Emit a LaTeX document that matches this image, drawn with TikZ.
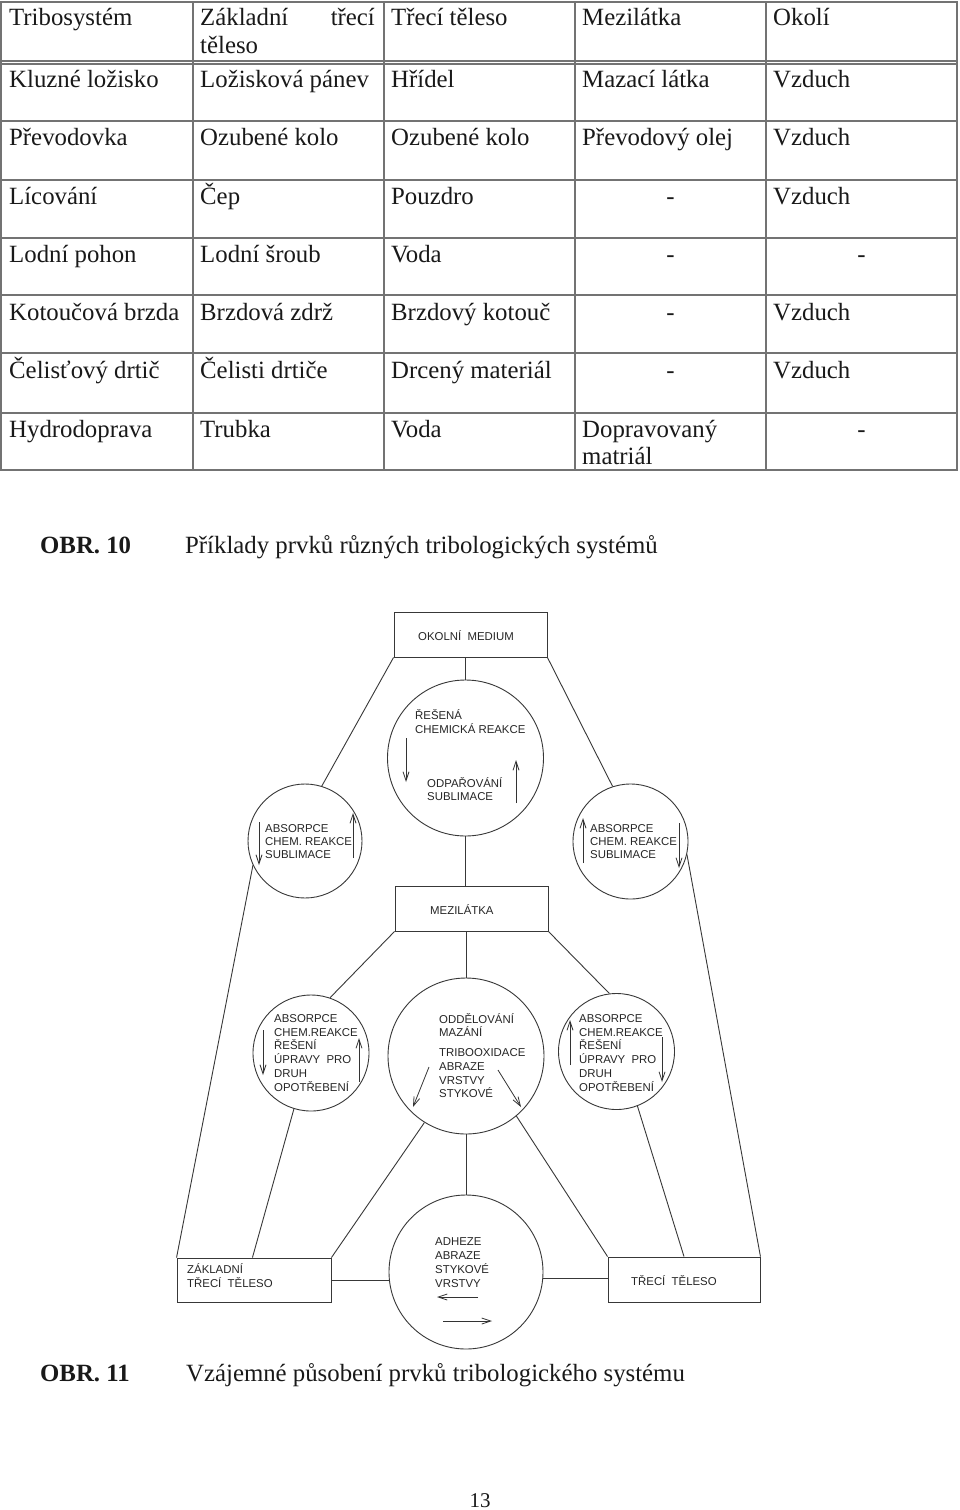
\documentclass[tikz,border=0pt]{standalone}
\usepackage{fontspec}
\setmainfont{Liberation Serif}
\newfontfamily\arialf{Liberation Sans}
\usetikzlibrary{arrows.meta,calc}
\newcommand\tabfnt{\fontsize{24.8}{28}\selectfont}
\newcommand\dgfnt{\arialf\fontsize{11.4}{13.7}\selectfont}
\newcommand\tcellx[4]{\node[tt] (#1) at (#2,#3) {#4};}
\newcommand\dcell[4]{\node[dt] (#1) at (#2,#3) {#4};}
\begin{document}
\begin{tikzpicture}[x=1pt,y=-1pt,
  tt/.style={anchor=base west, inner sep=0, font=\tabfnt, text=black!90},
  ttc/.style={anchor=base, inner sep=0, font=\tabfnt, text=black!90},
  tline/.style={draw=black!55, line width=1.1pt},
  dline/.style={draw=black!78, line width=0.9pt},
  dt/.style={anchor=base west, inner sep=0, font=\dgfnt, text=black!85},
  circ/.style={circle, draw=black!78, line width=0.9pt, minimum size=#1, inner sep=0},
  bx/.style={rectangle, draw=black!78, line width=0.9pt, inner sep=0},
  arr/.style={draw=black!80, line width=0.8pt, -{Straight Barb[length=9pt,width=6pt]}}]
\useasboundingbox (0,0) rectangle (960,1510);
\fill[white] (0,0) rectangle (960,1510);

% ---------- table grid ----------
\draw[tline] (1,2) rectangle (957,470);
\foreach \x in {193,384,575,766} \draw[tline] (\x,2) -- (\x,470);
\foreach \y in {61,64,121,180,238,295,353,413} \draw[tline] (1,\y) -- (957,\y);

% ---------- table text ----------
\tcellx{h1}{9}{25}{Tribosystém}
\tcellx{h2a}{200}{25}{Základní}
\node[inner sep=0, anchor=base east, font=\tabfnt, text=black!90] (h2b) at (375,25) {třecí};
\tcellx{h2c}{200}{53}{těleso}
\tcellx{h3}{391}{25}{Třecí těleso}
\tcellx{h4}{582}{25}{Mezilátka}
\tcellx{h5}{773}{25}{Okolí}

\tcellx{a1}{9}{87}{Kluzné ložisko}
\tcellx{a2}{200}{87}{Ložisková pánev}
\tcellx{a3}{391}{87}{Hřídel}
\tcellx{a4}{582}{87}{Mazací látka}
\tcellx{a5}{773}{87}{Vzduch}

\tcellx{b1}{9}{145}{Převodovka}
\tcellx{b2}{200}{145}{Ozubené kolo}
\tcellx{b3}{391}{145}{Ozubené kolo}
\tcellx{b4}{582}{145}{Převodový olej}
\tcellx{b5}{773}{145}{Vzduch}

\tcellx{c1}{9}{204}{Lícování}
\tcellx{c2}{200}{204}{Čep}
\tcellx{c3}{391}{204}{Pouzdro}
\node[ttc] (c4) at (670.5,204) {-};
\tcellx{c5}{773}{204}{Vzduch}

\tcellx{d1}{9}{262}{Lodní pohon}
\tcellx{d2}{200}{262}{Lodní šroub}
\tcellx{d3}{391}{262}{Voda}
\node[ttc] (d4) at (670.5,262) {-};
\node[ttc] (d5) at (861.5,262) {-};

\tcellx{e1}{9}{320}{Kotoučová brzda}
\tcellx{e2}{200}{320}{Brzdová zdrž}
\tcellx{e3}{391}{320}{Brzdový kotouč}
\node[ttc] (e4) at (670.5,320) {-};
\tcellx{e5}{773}{320}{Vzduch}

\tcellx{f1}{9}{378}{Čelisťový drtič}
\tcellx{f2}{200}{378}{Čelisti drtiče}
\tcellx{f3}{391}{378}{Drcený materiál}
\node[ttc] (f4) at (670.5,378) {-};
\tcellx{f5}{773}{378}{Vzduch}

\tcellx{g1}{9}{437}{Hydrodoprava}
\tcellx{g2}{200}{437}{Trubka}
\tcellx{g3}{391}{437}{Voda}
\tcellx{g4a}{582}{437}{Dopravovaný}
\tcellx{g4b}{582}{464}{matriál}
\node[ttc] (g5) at (861.5,437) {-};

% ---------- captions ----------
\node[tt, font=\tabfnt\bfseries] (cap1a) at (40,553) {OBR. 10};
\tcellx{cap1b}{185}{553}{Příklady prvků různých tribologických systémů}
\node[tt, font=\tabfnt\bfseries] (cap2a) at (40,1381) {OBR. 11};
\tcellx{cap2b}{186}{1381}{Vzájemné působení prvků tribologického systému}
\node[ttc, font=\fontsize{21}{24}\selectfont] (pg) at (480,1507) {13};

% ---------- diagram: boxes ----------
\node[bx, minimum width=153pt, minimum height=45pt] (ok) at (470.5,634.5) {};
\node[bx, minimum width=153pt, minimum height=45pt] (mz) at (471.5,908.5) {};
\node[bx, minimum width=154pt, minimum height=44pt] (zb) at (254,1280) {};
\node[bx, minimum width=152pt, minimum height=45pt] (tb) at (684,1279.5) {};

% ---------- diagram: circles ----------
\node[circ=156pt] (tc) at (465.5,758) {};
\node[circ=114pt] (lc) at (305,841) {};
\node[circ=115pt] (rc) at (630.5,841.5) {};
\node[circ=116pt] (ml) at (311,1053) {};
\node[circ=116pt] (mr) at (616.5,1051.5) {};
\node[circ=156pt] (cc) at (466,1056) {};
\node[circ=154pt] (bc) at (466,1272) {};

% ---------- diagram: connectors ----------
\draw[dline] (ok.south west) -- (lc.73);
\draw[dline] (ok.south east) -- (rc.108);
\draw[dline] (ok.south -| tc.north) -- (tc.north);
\draw[dline] (tc.south) -- (mz.north -| tc.south);
\draw[dline] (lc.205) -- (zb.north west);
\draw[dline] (rc.-13) -- (tb.north east);
\draw[dline] (mz.south west) -- (ml.71);
\draw[dline] (mz.south east) -- (mr.97);
\draw[dline] (mz.south -| cc.north) -- (cc.north);
\draw[dline] (ml.-107) -- ($(zb.north west)!0.49!(zb.north east)$);
\draw[dline] (mr.-69) -- (tb.north);
\draw[dline] (cc.238) -- (zb.north east);
\draw[dline] (cc.-50) -- (tb.north west);
\draw[dline] (cc.south) -- (bc.north);
\draw[dline] (zb.east) -- (zb.east -| bc.west);
\draw[dline] (bc.-5) -- (bc.-5 -| tb.west);

% ---------- diagram: texts ----------
\dcell{okt}{418}{640}{OKOLNÍ\ \ MEDIUM}
\dcell{mzt}{430}{914}{MEZILÁTKA}
\dcell{zbt1}{187}{1273}{ZÁKLADNÍ}
\dcell{zbt2}{187}{1287}{TŘECÍ\ \ TĚLESO}
\dcell{tbt}{631}{1285}{TŘECÍ\ \ TĚLESO}

\dcell{tc1}{415}{719}{ŘEŠENÁ}
\dcell{tc2}{415}{733}{CHEMICKÁ REAKCE}
\dcell{tc3}{427}{787}{ODPAŘOVÁNÍ}
\dcell{tc4}{427}{800}{SUBLIMACE}

\dcell{lc1}{265}{832}{ABSORPCE}
\dcell{lc2}{265}{845}{CHEM. REAKCE}
\dcell{lc3}{265}{858}{SUBLIMACE}

\dcell{rc1}{590}{832}{ABSORPCE}
\dcell{rc2}{590}{845}{CHEM. REAKCE}
\dcell{rc3}{590}{858}{SUBLIMACE}

\dcell{ml1}{274}{1022}{ABSORPCE}
\dcell{ml2}{274}{1036}{CHEM.REAKCE}
\dcell{ml3}{274}{1049}{ŘEŠENÍ}
\dcell{ml4}{274}{1063}{ÚPRAVY\ \ PRO}
\dcell{ml5}{274}{1077}{DRUH}
\dcell{ml6}{274}{1091}{OPOTŘEBENÍ}

\dcell{mr1}{579}{1022}{ABSORPCE}
\dcell{mr2}{579}{1036}{CHEM.REAKCE}
\dcell{mr3}{579}{1049}{ŘEŠENÍ}
\dcell{mr4}{579}{1063}{ÚPRAVY\ \ PRO}
\dcell{mr5}{579}{1077}{DRUH}
\dcell{mr6}{579}{1091}{OPOTŘEBENÍ}

\dcell{cc1}{439}{1023}{ODDĚLOVÁNÍ}
\dcell{cc2}{439}{1036}{MAZÁNÍ}
\dcell{cc3}{439}{1056}{TRIBOOXIDACE}
\dcell{cc4}{439}{1070}{ABRAZE}
\dcell{cc5}{439}{1084}{VRSTVY}
\dcell{cc6}{439}{1097}{STYKOVÉ}

\dcell{bc1}{435}{1245}{ADHEZE}
\dcell{bc2}{435}{1259}{ABRAZE}
\dcell{bc3}{435}{1273}{STYKOVÉ}
\dcell{bc4}{435}{1287}{VRSTVY}

% ---------- diagram: arrows inside circles ----------
\draw[arr] (406,738) -- (406,782);
\draw[arr] (516,803) -- (516,760);
\draw[arr] (259,822) -- (259,865);
\draw[arr] (353,858) -- (353,813);
\draw[arr] (583,863) -- (583,818);
\draw[arr] (679,823) -- (679,868);
\draw[arr] (263,1030) -- (263,1075);
\draw[arr] (359,1082) -- (359,1038);
\draw[arr] (570,1065) -- (570,1020);
\draw[arr] (662,1037) -- (662,1082);
\draw[arr] (429,1067) -- (413,1107);
\draw[arr] (498,1070) -- (521,1107);
\draw[arr] (478,1297) -- (437,1297);
\draw[arr] (443,1321) -- (492,1321);
\end{tikzpicture}
\end{document}
